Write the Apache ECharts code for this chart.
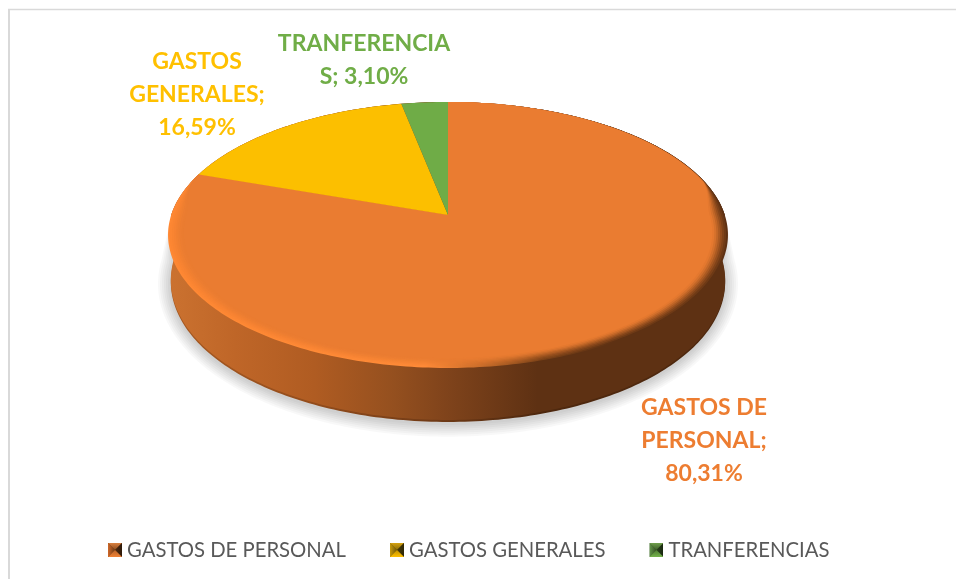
<!DOCTYPE html>
<html>
<head>
<meta charset="utf-8">
<style>html,body{margin:0;padding:0;background:#fff}#c{width:956px;height:579px}</style>
<script src="https://cdn.jsdelivr.net/npm/echarts@6/dist/echarts.min.js"></script>
</head>
<body>
<div id="c"></div>
<script>
const categories = ['GASTOS DE PERSONAL', 'GASTOS GENERALES', 'TRANFERENCIAS'];
const values = [80.31, 16.59, 3.10];
const labelTemplates = [
  ['GASTOS DE', 'PERSONAL;', '{v}'],
  ['GASTOS', 'GENERALES;', '{v}'],
  ['TRANFERENCIA', 'S; {v}']
];
const labelColors = ['#ed7d31', '#ffc000', '#70ad47'];
const faceColors = ['#ea7c31', '#fcbf00', '#6fac47'];
const iconShades = [
  ['#d9803f', '#8a4a1d', '#d0682a', '#6b3a14', '#2e1a0a', '#4f2a10', '#f08234', '#b8632a'],
  ['#d6a20f', '#8a6d08', '#c89a0c', '#6e5606', '#2f2705', '#4a3c06', '#ffc000', '#c29200'],
  ['#6f9f4c', '#3e5f2a', '#64964a', '#334f22', '#18260f', '#2a431b', '#75b34b', '#4f7d33']
];

// perspective disc geometry
const CX = 448, CY = 215, A = 276.8, B = 130, K = 0.15;
const total = values.reduce((a, b) => a + b, 0);
const starts = [];
values.reduce((acc, v, i) => { starts[i] = acc; return acc + v; }, 0);
const ang = v => v / total * 2 * Math.PI;

function proj(theta, r) {
  const u = r * Math.sin(theta), v = r * Math.cos(theta), w = 1 + K * v;
  return [CX + A * u / w, CY - B * v / w];
}
function rimInset(theta) {
  const v = Math.cos(theta), u = Math.sin(theta);
  let t = Math.min(1, Math.max(0, (0.33 - v) / 0.33));
  t = t * t * (3 - 2 * t);
  if (u > 0) t = Math.max(t, 0.1 * u);
  return t;
}
function arcPts(a0, a1, rf) {
  const n = Math.max(2, Math.ceil((a1 - a0) / (Math.PI / 180)));
  const pts = [];
  for (let i = 0; i <= n; i++) {
    const th = a0 + (a1 - a0) * i / n;
    pts.push(proj(th, rf ? rf(th) : 1));
  }
  return pts;
}
function bottomPt(theta) {
  const p = proj(theta, 1), v = Math.cos(theta);
  return [CX + (p[0] - CX) * 0.99, p[1] + 46 + 8 * Math.max(0, -v)];
}
function hull(dy) {
  const pts = [];
  for (let d = 0; d <= 180; d += 1) {
    const b = bottomPt(Math.PI / 2 + d * Math.PI / 180);
    pts.push([b[0], b[1] - dy]);
  }
  for (let d = 270; d <= 450; d += 1) pts.push(proj(d * Math.PI / 180, 1));
  return pts;
}
const grad = stops => new echarts.graphic.LinearGradient(168, 0, 728, 0,
  stops.map(s => ({ offset: s[0], color: s[1] })), true);
const poly = (points, style) => ({ type: 'polygon', shape: { points }, style, silent: true });

function shadowLayers() {
  const out = [];
  for (let s = 13; s >= 1; s -= 2) {
    const pts = [];
    for (let d = 0; d <= 180; d += 1) {
      const b = bottomPt(Math.PI / 2 + d * Math.PI / 180);
      pts.push([CX + (b[0] - CX) * (1 + s / 280), 285 + (b[1] - 285) * (1 + s / 140) + 2]);
    }
    pts.push(proj(Math.PI * 1.5, 1), proj(Math.PI * 0.5, 1));
    out.push(poly(pts, { fill: '#000', opacity: 0.028 }));
  }
  return out;
}

function labelEls(i) {
  const pct = values[i].toFixed(2).replace('.', ',') + '%';
  const anchor = [[704, 408], [197, 62], [364, 44]][i];
  return labelTemplates[i].map((line, k) => ({
    type: 'text', z2: 50, silent: true,
    style: {
      text: line.replace('{v}', pct), x: anchor[0], y: anchor[1] + k * 32.7,
      align: 'center', verticalAlign: 'middle', fill: labelColors[i],
      font: 'bold 23px Lato, "Open Sans", sans-serif'
    }
  }));
}

function renderSlice(i) {
  return function () {
    const a0 = ang(starts[i]), a1 = ang(starts[i] + values[i]);
    const children = [];
    if (i === 0) {
      shadowLayers().forEach(s => children.push(s));
      children.push(poly(hull(0), {
        fill: grad([[0, '#a85a22'], [0.25, '#944d1c'], [0.5, '#6c3815'], [0.66, '#4e280e'], [1, '#4e280e']])
      }));
      children.push(poly(hull(2), {
        fill: grad([[0, '#cb7230'], [0.12, '#bf6628'], [0.26, '#b05c22'], [0.4, '#95501f'], [0.5, '#7f431b'], [0.66, '#5e3113'], [1, '#5e3113']])
      }));
      const wedge = rf => [[CX, CY]].concat(arcPts(a0, a1, rf));
      children.push(poly(wedge(null), {
        fill: grad([[0, '#ff8833'], [0.46, '#ff8b38'], [0.56, '#c96d2a'], [0.67, '#7a4117'], [0.8, '#5e3113'], [1, '#5e3113']])
      }));
      const layers = [[0.12, 0.12], [0.25, 0.15], [0.38, 0.2], [0.5, 0.27], [0.62, 0.36], [0.74, 0.5], [0.87, 0.7], [1, 1]];
      layers.forEach(l => {
        children.push(poly(wedge(th => 1 - 0.055 * rimInset(th) * l[0]), { fill: faceColors[0], opacity: l[1] }));
      });
    } else {
      children.push(poly([[CX, CY]].concat(arcPts(a0, a1)), { fill: faceColors[i] }));
    }
    return { type: 'group', children: children.concat(labelEls(i)) };
  };
}

function iconUri(s) {
  const g = (n, x1, y1, x2, y2, c1, c2) =>
    '<linearGradient id="' + n + '" gradientUnits="userSpaceOnUse" x1="' + x1 + '" y1="' + y1 + '" x2="' + x2 + '" y2="' + y2 + '">' +
    '<stop offset="0" stop-color="' + c1 + '"/><stop offset="1" stop-color="' + c2 + '"/></linearGradient>';
  const svg = '<svg xmlns="http://www.w3.org/2000/svg" width="14" height="14"><defs>' +
    g('t', 0, 0, 0, 7, s[0], s[1]) + g('l', 0, 0, 7, 0, s[2], s[3]) +
    g('r', 14, 0, 7, 0, s[4], s[5]) + g('b', 0, 14, 0, 7, s[6], s[7]) +
    '</defs><rect width="14" height="14" fill="' + s[3] + '"/>' +
    '<polygon points="0,0 14,0 7,7" fill="url(#t)"/>' +
    '<polygon points="0,0 0,14 7,7" fill="url(#l)"/>' +
    '<polygon points="14,0 14,14 7,7" fill="url(#r)"/>' +
    '<polygon points="0,14 14,14 7,7" fill="url(#b)"/></svg>';
  return 'image://data:image/svg+xml;charset=utf-8,' + encodeURIComponent(svg);
}

const chart = echarts.init(document.getElementById('c'), null, { renderer: 'canvas' });
chart.setOption({
  animation: false,
  backgroundColor: '#fff',
  graphic: [
    { type: 'line', silent: true, shape: { x1: 8, y1: 9.5, x2: 956, y2: 9.5 }, style: { stroke: '#d9d9d9', lineWidth: 1.5 } },
    { type: 'line', silent: true, shape: { x1: 9, y1: 9, x2: 9, y2: 579 }, style: { stroke: '#d9d9d9', lineWidth: 2 } }
  ],
  legend: {
    left: 108, top: 540, padding: 0, itemGap: 44, itemWidth: 14, itemHeight: 14,
    selectedMode: false,
    textStyle: { color: '#595959', fontSize: 20.3, fontFamily: 'Lato, "Open Sans", sans-serif' },
    data: categories.map((name, i) => ({ name, icon: iconUri(iconShades[i]) }))
  },
  series: categories.map((name, i) => ({
    type: 'custom', name, coordinateSystem: 'none', silent: true,
    itemStyle: { color: faceColors[i] },
    data: [[values[i]]],
    renderItem: renderSlice(i)
  }))
});
</script>
</body>
</html>
